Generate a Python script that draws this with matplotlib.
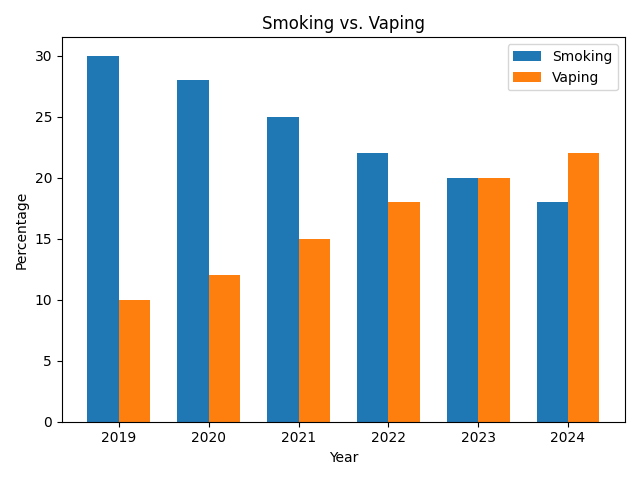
import matplotlib
matplotlib.use("Agg")
import matplotlib.pyplot as plt
import numpy as np

years = ["2019", "2020", "2021", "2022", "2023", "2024"]
smoking = [30, 28, 25, 22, 20, 18]
vaping = [10, 12, 15, 18, 20, 22]

x = np.arange(len(years))
width = 0.35

fig, ax = plt.subplots(figsize=(6.4, 4.8), dpi=100)
ax.bar(x - width/2, smoking, width, label="Smoking")
ax.bar(x + width/2, vaping, width, label="Vaping")
ax.set_xlabel("Year")
ax.set_ylabel("Percentage")
ax.set_title("Smoking vs. Vaping")
ax.set_xticks(x)
ax.set_xticklabels(years)
ax.legend()
fig.tight_layout()
fig.savefig("out.png")
